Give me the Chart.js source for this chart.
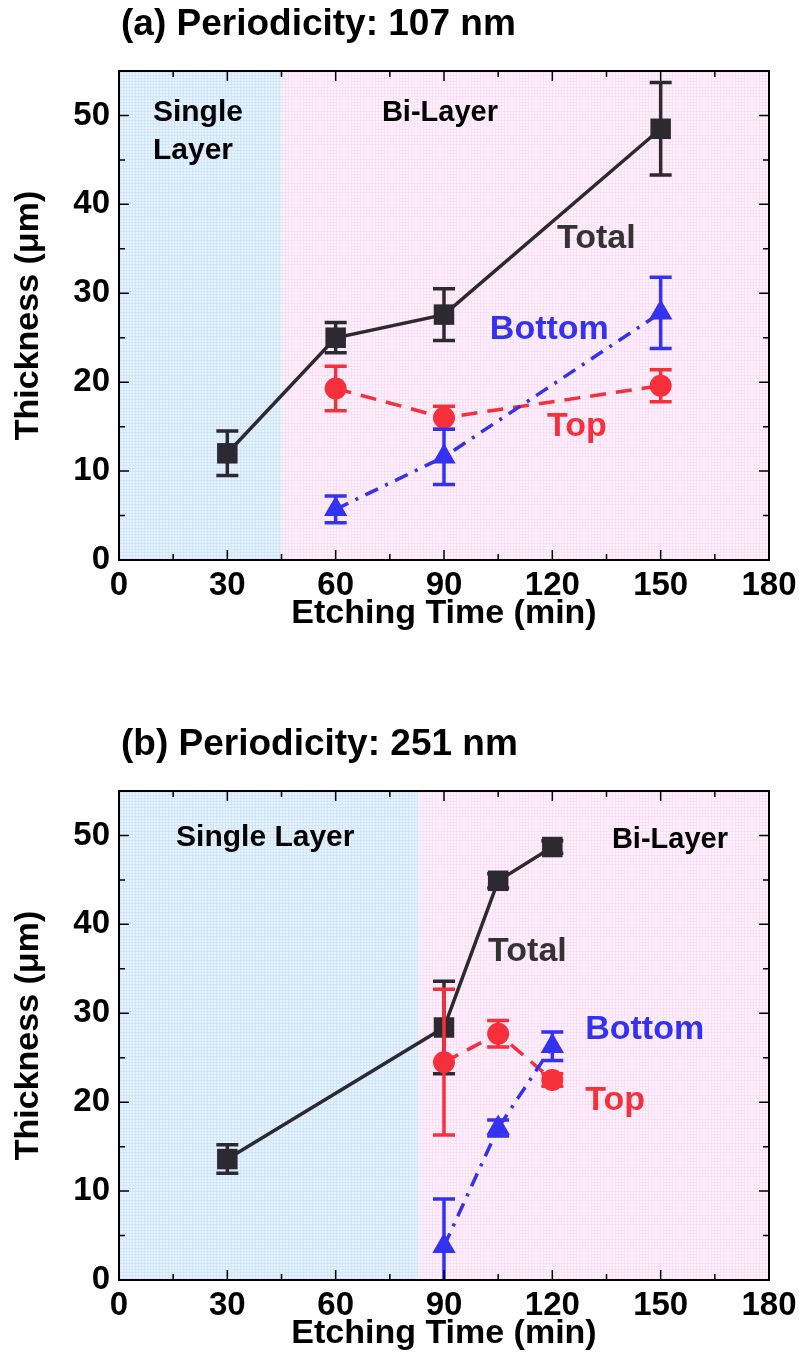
<!DOCTYPE html>
<html>
<head>
<meta charset="utf-8">
<script src="https://cdn.jsdelivr.net/npm/chart.js@4.4.1/dist/chart.umd.min.js"></script>
<style>
  body { margin: 0; background: #fff; width: 799px; height: 1371px; overflow: hidden; position: relative; }
  .box { position: absolute; left: 0; width: 799px; }
  #boxA { top: 0; height: 700px; }
  #boxB { top: 720px; height: 651px; }
</style>
</head>
<body>
<div class="box" id="boxA"><canvas id="chartA"></canvas></div>
<div class="box" id="boxB"><canvas id="chartB"></canvas></div>
<script>
const xTicks = [0, 30, 60, 90, 120, 150, 180];
const yTicks = [0, 10, 20, 30, 40, 50];

// (a) periodicity 107 nm
const timeA_total = [30, 60, 90, 150];
const totalA = [12.0, 25.0, 27.6, 48.5];
const totalA_err = [2.5, 1.7, 2.9, 5.2];
const timeA_layers = [60, 90, 150];
const topA = [19.3, 16.0, 19.6];
const topA_err = [2.5, 1.3, 1.8];
const bottomA = [5.7, 11.6, 27.8];
const bottomA_err = [1.5, 3.1, 4.0];
const splitA = 45;

// (b) periodicity 251 nm
const timeB_total = [30, 90, 105, 120];
const totalB = [13.6, 28.4, 44.9, 48.7];
const totalB_err = [1.6, 5.2, 0.8, 0.7];
const timeB_layers = [90, 105, 120];
const topB = [24.5, 27.7, 22.5];
const topB_err = [8.2, 1.5, 0.7];
const bottomB = [3.8, 17.1, 26.3];
const bottomB_err = [5.3, 0.9, 1.6];
const splitB = 83;

const FONT = "'Liberation Sans', Arial, sans-serif";
const BLACK = '#2d2930';
const RED = '#f5303a';
const BLUE = '#3232f0';

const pts = (xs, ys) => xs.map((x, i) => ({ x: x, y: ys[i] }));

// light mesh like the original fill
function mesh(base, line) {
    const c = document.createElement('canvas');
    c.width = 3; c.height = 3;
    const g = c.getContext('2d');
    g.fillStyle = base; g.fillRect(0, 0, 3, 3);
    g.fillStyle = line; g.fillRect(0, 0, 3, 1); g.fillRect(0, 0, 1, 3);
    return g.createPattern(c, 'repeat');
}

const decor = {
    id: 'decor',
    beforeDatasetsDraw(chart, args, opts) {
        const { ctx, chartArea: a, scales: { x } } = chart;
        const sx = x.getPixelForValue(opts.split);
        ctx.save();
        ctx.fillStyle = mesh('rgb(232,243,254)', 'rgb(208,230,250)');
        ctx.fillRect(a.left, a.top, sx - a.left, a.bottom - a.top);
        ctx.fillStyle = mesh('rgb(254,240,252)', 'rgb(250,226,246)');
        ctx.fillRect(sx, a.top, a.right - sx, a.bottom - a.top);
        ctx.restore();
    },
    afterDatasetDraw(chart, args) {
        const ds = chart.data.datasets[args.index];
        if (!ds.errors) return;
        const { ctx, chartArea: a, scales: { y } } = chart;
        ctx.save();
        ctx.beginPath();
        ctx.rect(a.left, a.top, a.right - a.left, a.bottom - a.top);
        ctx.clip();
        ctx.strokeStyle = ds.borderColor;
        ctx.lineWidth = 3.5;
        args.meta.data.forEach((p, i) => {
            const v = ds.data[i].y, e = ds.errors[i];
            const y1 = y.getPixelForValue(v + e), y2 = y.getPixelForValue(v - e);
            ctx.beginPath();
            ctx.moveTo(p.x, y1); ctx.lineTo(p.x, y2);
            ctx.moveTo(p.x - 11, y1); ctx.lineTo(p.x + 11, y1);
            ctx.moveTo(p.x - 11, y2); ctx.lineTo(p.x + 11, y2);
            ctx.stroke();
        });
        ctx.restore();
    },
    afterDatasetsDraw(chart) {
        const { ctx, chartArea: a, scales: { x, y } } = chart;
        ctx.save();
        ctx.strokeStyle = '#000';
        ctx.lineWidth = 2;
        ctx.strokeRect(a.left, a.top, a.right - a.left, a.bottom - a.top);
        ctx.lineWidth = 1.5;
        ctx.beginPath();
        xTicks.forEach((v, i) => {
            const px = x.getPixelForValue(v);
            ctx.moveTo(px, a.bottom); ctx.lineTo(px, a.bottom - 10);
            ctx.moveTo(px, a.top); ctx.lineTo(px, a.top + 10);
            if (i < xTicks.length - 1) {
                const mx = x.getPixelForValue((v + xTicks[i + 1]) / 2);
                ctx.moveTo(mx, a.bottom); ctx.lineTo(mx, a.bottom - 6);
                ctx.moveTo(mx, a.top); ctx.lineTo(mx, a.top + 6);
            }
        });
        yTicks.forEach(v => {
            const py = y.getPixelForValue(v);
            ctx.moveTo(a.left, py); ctx.lineTo(a.left + 10, py);
            ctx.moveTo(a.right, py); ctx.lineTo(a.right - 10, py);
            const my = y.getPixelForValue(v + 5);
            if (my > a.top + 2) {
                ctx.moveTo(a.left, my); ctx.lineTo(a.left + 6, my);
                ctx.moveTo(a.right, my); ctx.lineTo(a.right - 6, my);
            }
        });
        ctx.stroke();
        ctx.restore();
    },
    afterDraw(chart, args, opts) {
        const { ctx, chartArea: a, scales: { x, y } } = chart;
        ctx.save();
        ctx.textBaseline = 'middle';
        ctx.textAlign = 'left';
        ctx.fillStyle = '#000';
        ctx.font = 'bold 37px ' + FONT;
        ctx.fillText(opts.title, a.left + 2, 25);
        opts.notes.forEach(n => {
            ctx.font = 'bold ' + n.size + 'px ' + FONT;
            ctx.fillStyle = n.color;
            ctx.fillText(n.text, x.getPixelForValue(n.x), y.getPixelForValue(n.y));
        });
        ctx.restore();
    }
};

function makeChart(id, cfg) {
    const datasets = [
        { label: 'Bottom', data: pts(cfg.timeL, cfg.bottom), errors: cfg.bottomErr,
          borderColor: BLUE, backgroundColor: BLUE, borderWidth: 3.5, borderDash: [14, 8, 3, 8],
          pointStyle: 'triangle', pointRadius: 13.5, pointBorderWidth: 0 },
        { label: 'Top', data: pts(cfg.timeL, cfg.top), errors: cfg.topErr,
          borderColor: RED, backgroundColor: RED, borderWidth: 3.5, borderDash: [16, 10],
          pointStyle: 'circle', pointRadius: 11, pointBorderWidth: 0 },
        { label: 'Total', data: pts(cfg.timeT, cfg.total), errors: cfg.totalErr,
          borderColor: BLACK, backgroundColor: BLACK, borderWidth: 3.5,
          pointStyle: 'rect', pointRadius: 14.5, pointBorderWidth: 0 }
    ];
    return new Chart(document.getElementById(id), {
        type: 'line',
        data: { datasets: datasets },
        plugins: [decor],
        options: {
            responsive: true,
            maintainAspectRatio: false,
            animation: false,
            events: [],
            layout: { padding: { top: 71, right: 30, left: 0, bottom: cfg.padBottom } },
            plugins: {
                legend: { display: false },
                tooltip: { enabled: false },
                decor: { split: cfg.split, title: cfg.title, notes: cfg.notes }
            },
            scales: {
                x: {
                    type: 'linear', min: 0, max: 180,
                    grid: { display: false }, border: { display: false },
                    afterBuildTicks: s => { s.ticks = xTicks.map(v => ({ value: v })); },
                    afterFit: s => { s.height = 80; },
                    ticks: { color: '#000', padding: -2, maxRotation: 0, font: { family: FONT, size: 33, weight: 'bold' } },
                    title: { display: true, text: 'Etching Time (min)', color: '#000', padding: { bottom: 6 },
                             font: { family: FONT, size: 34, weight: 'bold' } }
                },
                y: {
                    type: 'linear', min: 0, max: 55,
                    grid: { display: false }, border: { display: false },
                    afterBuildTicks: s => { s.ticks = yTicks.map(v => ({ value: v })); },
                    afterFit: s => { s.width = 119; },
                    ticks: { color: '#000', padding: 1, font: { family: FONT, size: 33, weight: 'bold' } },
                    title: { display: true, text: 'Thickness (\u03bcm)', color: '#000', padding: { top: 8 },
                             font: { family: FONT, size: 34, weight: 'bold' } }
                }
            }
        }
    });
}

makeChart('chartA', {
    timeT: timeA_total, total: totalA, totalErr: totalA_err,
    timeL: timeA_layers, top: topA, topErr: topA_err, bottom: bottomA, bottomErr: bottomA_err,
    split: splitA, padBottom: 60, title: '(a) Periodicity: 107 nm',
    notes: [
        { text: 'Single', x: 9.4, y: 50.3, color: '#000', size: 30 },
        { text: 'Layer', x: 9.4, y: 46.0, color: '#000', size: 30 },
        { text: 'Bi-Layer', x: 72.8, y: 50.3, color: '#000', size: 29 },
        { text: 'Total', x: 121.3, y: 36.2, color: '#333', size: 34 },
        { text: 'Bottom', x: 102.7, y: 25.9, color: BLUE, size: 34 },
        { text: 'Top', x: 118.5, y: 15.0, color: RED, size: 34 }
    ]
});

makeChart('chartB', {
    timeT: timeB_total, total: totalB, totalErr: totalB_err,
    timeL: timeB_layers, top: topB, topErr: topB_err, bottom: bottomB, bottomErr: bottomB_err,
    split: splitB, padBottom: 11, title: '(b) Periodicity: 251 nm',
    notes: [
        { text: 'Single Layer', x: 15.8, y: 49.7, color: '#000', size: 30 },
        { text: 'Bi-Layer', x: 136.5, y: 49.5, color: '#000', size: 29 },
        { text: 'Total', x: 102.2, y: 36.9, color: '#333', size: 34 },
        { text: 'Bottom', x: 129.1, y: 28.2, color: BLUE, size: 34 },
        { text: 'Top', x: 129.1, y: 20.2, color: RED, size: 34 }
    ]
});
</script>
</body>
</html>
